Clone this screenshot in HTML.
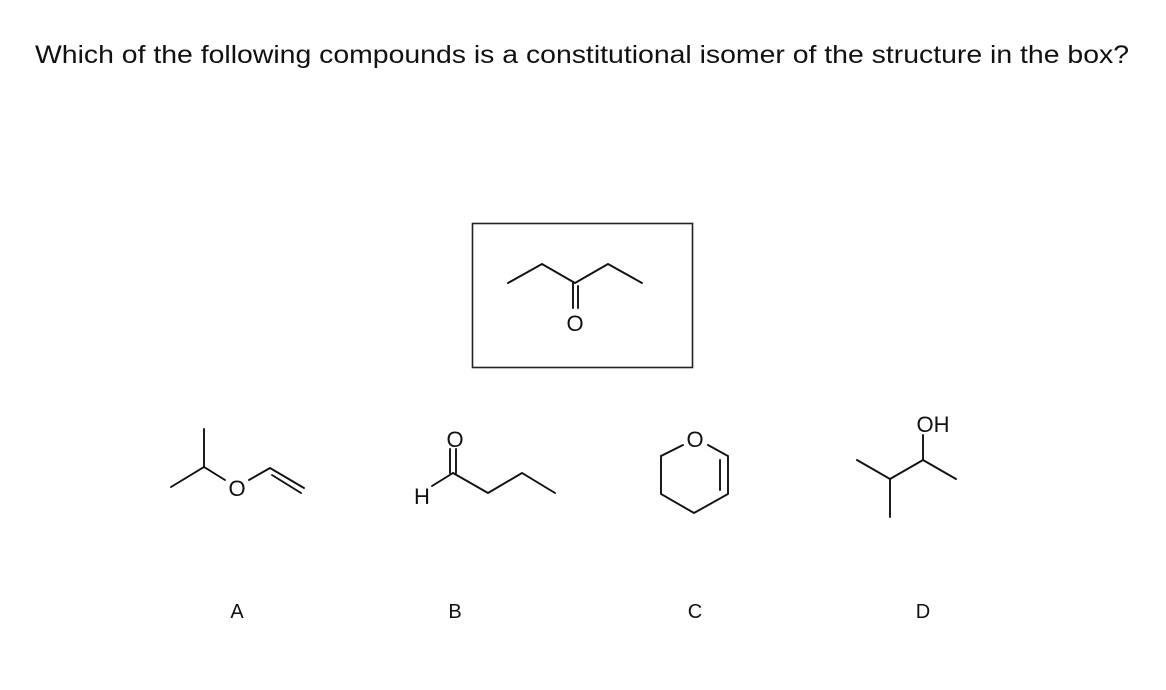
<!DOCTYPE html>
<html><head><meta charset="utf-8"><style>
html,body{margin:0;padding:0;background:#fff;width:1166px;height:690px;overflow:hidden}
</style></head><body>
<svg width="1166" height="690" xmlns="http://www.w3.org/2000/svg" font-family="Liberation Sans, sans-serif">
<text x="35" y="63" font-size="25" fill="#111" textLength="1094" lengthAdjust="spacingAndGlyphs">Which of the following compounds is a constitutional isomer of the structure in the box?</text>
<rect x="472.5" y="223.5" width="220" height="144" fill="none" stroke="#222" stroke-width="1.6"/>
<g stroke="#111" stroke-width="1.9" fill="none" stroke-linecap="round">
<polyline points="508,283 542,264 575,283 608,264 642,283"/>
<line x1="573" y1="283" x2="573" y2="308"/><line x1="578" y1="286" x2="578" y2="308"/>
<!-- A -->
<polyline points="171,487 204,467 225,480"/>
<line x1="204" y1="467" x2="204" y2="429"/>
<polyline points="249,480 270,468 304,488"/>
<line x1="272" y1="475" x2="301" y2="493"/>
<!-- B -->
<line x1="432" y1="486" x2="453" y2="473"/>
<line x1="450" y1="473" x2="450" y2="449"/><line x1="456" y1="473" x2="456" y2="449"/>
<polyline points="453,473 488,493 522,473 555,493"/>
<!-- C -->
<polyline points="683,445 661,456 661,494 694,513 728,494 728,456 708,445"/>
<line x1="720" y1="460" x2="720" y2="490"/>
<!-- D -->
<line x1="923" y1="460" x2="923" y2="435"/>
<polyline points="857,460 890,479 923,460 956,479"/>
<line x1="890" y1="479" x2="890" y2="517"/>
</g>
<g font-size="22" fill="#111" text-anchor="middle">
<text x="575" y="331">O</text>
<text x="237" y="496">O</text>
<text x="422" y="504">H</text>
<text x="455" y="447">O</text>
<text x="695" y="447">O</text>
<text x="933" y="432">OH</text>
</g>
<g font-size="20" fill="#111" text-anchor="middle">
<text x="237" y="618">A</text>
<text x="455" y="618">B</text>
<text x="695" y="618">C</text>
<text x="923" y="618">D</text>
</g>
</svg>
</body></html>
